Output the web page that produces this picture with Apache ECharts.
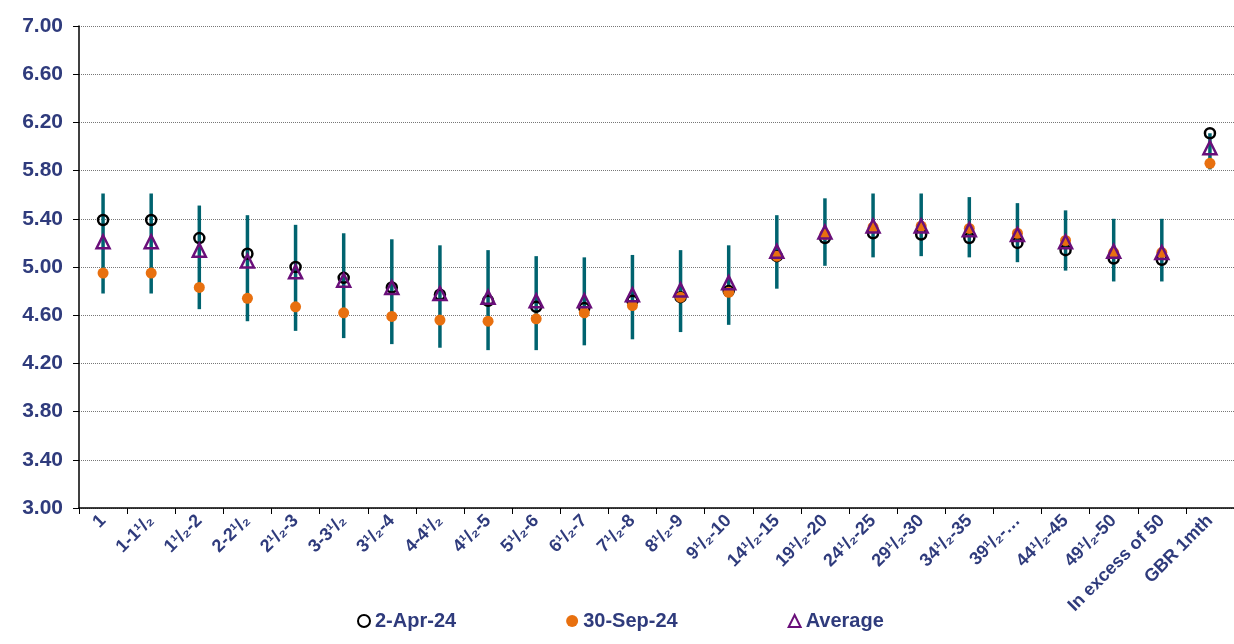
<!DOCTYPE html>
<html>
<head>
<meta charset="utf-8">
<script src="https://cdn.jsdelivr.net/npm/echarts@6/dist/echarts.min.js"></script>
<style>html,body{margin:0;padding:0;background:#fff}#chart{width:1234px;height:644px}</style>
</head>
<body>
<div id="chart"></div>
<script>
var categories = ['1', '1-1¹/₂', '1¹/₂-2', '2-2¹/₂', '2¹/₂-3', '3-3¹/₂', '3¹/₂-4', '4-4¹/₂', '4¹/₂-5', '5¹/₂-6',
    '6¹/₂-7', '7¹/₂-8', '8¹/₂-9', '9¹/₂-10', '14¹/₂-15', '19¹/₂-20', '24¹/₂-25', '29¹/₂-30', '34¹/₂-35',
    '39¹/₂-…', '44¹/₂-45', '49¹/₂-50', 'In excess of 50', 'GBR 1mth'];
var apr24 = [5.39, 5.39, 5.24, 5.11, 5.00, 4.91, 4.83, 4.77, 4.72, 4.67, 4.66, 4.72, 4.75, 4.80,
    5.09, 5.24, 5.28, 5.27, 5.24, 5.20, 5.14, 5.07, 5.06, 6.11];
var sep24 = [4.95, 4.95, 4.83, 4.74, 4.67, 4.62, 4.59, 4.56, 4.55, 4.57, 4.62, 4.68, 4.75, 4.79,
    5.09, 5.27, 5.33, 5.34, 5.32, 5.28, 5.22, 5.12, 5.12, 5.86];
var average = [5.21, 5.21, 5.14, 5.05, 4.96, 4.89, 4.83, 4.78, 4.75, 4.72, 4.72, 4.77, 4.81, 4.87,
    5.13, 5.29, 5.34, 5.34, 5.31, 5.27, 5.21, 5.13, 5.12, 5.99];
var rangeLow = [4.78, 4.78, 4.65, 4.55, 4.47, 4.41, 4.36, 4.33, 4.31, 4.31, 4.35, 4.40, 4.46, 4.52,
    4.82, 5.01, 5.08, 5.09, 5.08, 5.04, 4.97, 4.88, 4.88, 5.81];
var rangeHigh = [5.61, 5.61, 5.51, 5.43, 5.35, 5.28, 5.23, 5.18, 5.14, 5.09, 5.08, 5.10, 5.14, 5.18,
    5.43, 5.57, 5.61, 5.61, 5.58, 5.53, 5.47, 5.40, 5.40, 6.11];

var labelColor = '#2f3b7c';
var rangeData = categories.map(function (c, i) { return [i, rangeLow[i], rangeHigh[i]]; });

var chart = echarts.init(document.getElementById('chart'));
chart.setOption({
    animation: false,
    grid: { left: 79, right: 0, top: 26, bottom: 136 },
    legend: {
        bottom: 8,
        left: 352,
        itemGap: 110,
        itemWidth: 12,
        itemHeight: 12,
        textStyle: { color: labelColor, fontWeight: 'bold', fontSize: 20, fontFamily: 'Liberation Sans' },
        data: ['2-Apr-24', '30-Sep-24', 'Average']
    },
    xAxis: {
        type: 'category',
        data: categories,
        axisLine: { lineStyle: { color: '#000', width: 1.5 } },
        axisTick: { show: true, length: 6, lineStyle: { color: '#000' } },
        axisLabel: {
            interval: 0, rotate: 45, margin: 10,
            color: labelColor, fontWeight: 'bold', fontSize: 18, fontFamily: 'Liberation Sans'
        }
    },
    yAxis: {
        type: 'value',
        min: 3, max: 7, interval: 0.4,
        axisLine: { show: true, lineStyle: { color: '#000', width: 1.5 } },
        axisTick: { show: true, length: 6, lineStyle: { color: '#000' } },
        splitLine: { lineStyle: { color: '#777', type: 'dotted', width: 1 } },
        axisLabel: {
            formatter: function (v) { return v.toFixed(2); },
            color: labelColor, fontWeight: 'bold', fontSize: 21, fontFamily: 'Liberation Sans', margin: 16
        }
    },
    series: [{
        type: 'custom',
        name: 'range',
        data: rangeData,
        z: 1,
        renderItem: function (params, api) {
            var lo = api.coord([api.value(0), api.value(1)]);
            var hi = api.coord([api.value(0), api.value(2)]);
            return {
                type: 'line',
                shape: { x1: lo[0], y1: lo[1], x2: hi[0], y2: hi[1] },
                style: { stroke: '#00636f', lineWidth: 3.5 }
            };
        }
    }, {
        type: 'scatter',
        name: '2-Apr-24',
        data: apr24,
        symbol: 'circle',
        symbolSize: 10,
        z: 3,
        itemStyle: { color: 'rgba(0,0,0,0)', borderColor: '#000', borderWidth: 2.5, opacity: 1 }
    }, {
        type: 'scatter',
        name: '30-Sep-24',
        data: sep24,
        symbol: 'circle',
        symbolSize: 11,
        z: 4,
        itemStyle: { color: '#e8700f', opacity: 1 }
    }, {
        type: 'scatter',
        name: 'Average',
        data: average,
        symbol: 'triangle',
        symbolSize: 13,
        z: 5,
        itemStyle: { color: 'rgba(0,0,0,0)', borderColor: '#6a0f7a', borderWidth: 2.5, opacity: 1 }
    }]
});
</script>
</body>
</html>
